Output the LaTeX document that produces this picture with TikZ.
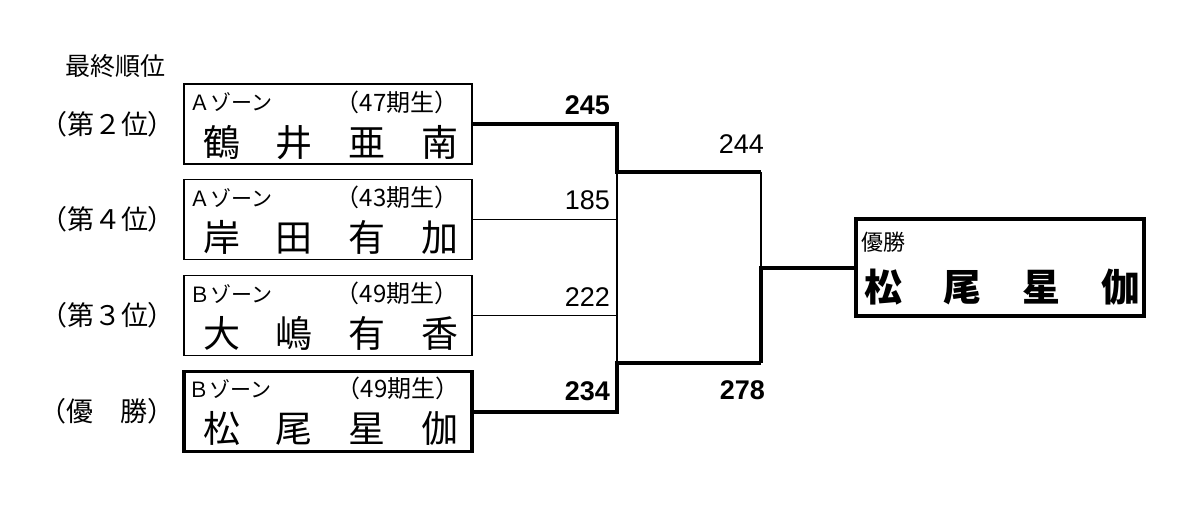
\documentclass[tikz,border=0pt]{standalone}
\usepackage{fontspec}
\setmainfont{Liberation Sans}
\newfontfamily\jp{Noto Sans CJK JP}
\usetikzlibrary{positioning}

% four characters of a name, spread over the box
\newcommand{\spreadname}[5]{\makebox[#1]{#2}\makebox[#1]{#3}\makebox[#1]{#4}\makebox[#1]{#5}}

\begin{document}
\begin{tikzpicture}[x=1pt, y=-1pt,
	entry/.style={draw, line width=1.6pt, minimum width=288, minimum height=80, inner sep=0},
	champentry/.style={entry, line width=3.6pt},
	winbox/.style={draw, line width=4pt, minimum width=288, minimum height=97, inner sep=0},
	zone/.style={font=\jp\fontsize{21}{21}\selectfont, inner sep=0, anchor=west},
	ki/.style={font=\jp\fontsize{24}{24}\selectfont, inner sep=0, anchor=east},
	player/.style={font=\jp\fontsize{37}{37}\selectfont, inner sep=0},
	rank/.style={font=\jp\fontsize{27}{27}\selectfont, inner sep=0},
	score/.style={font=\fontsize{27}{27}\selectfont, inner sep=0},
	bestscore/.style={font=\bfseries\fontsize{27}{27}\selectfont, inner sep=0},
	won/.style={line width=4pt},
	lost/.style={line width=1.3pt}]
	
	\useasboundingbox (0,0) rectangle (1200,532);
	
	\node[rank, font=\jp\fontsize{25}{25}\selectfont] (title) at (115,66) {最終順位};
	
	% entries
	\node[entry] (tsurui) at (328,124) {};
	\node[zone] (tsurui zone) at ([shift={(6,19)}]tsurui.north west) {Ａゾーン};
	\node[ki] (tsurui ki) at ([shift={(-14,19)}]tsurui.north east) {（47期生）};
	\node[player] (tsurui name) at ([shift={(3,59)}]tsurui.north) {\spreadname{73pt}{鶴}{井}{亜}{南}};
	\node[rank, left=8pt of tsurui] (tsurui rank) {（第２位）};
	
	\node[entry] (kishida) at (328,219.5) {};
	\node[zone] (kishida zone) at ([shift={(6,19)}]kishida.north west) {Ａゾーン};
	\node[ki] (kishida ki) at ([shift={(-14,19)}]kishida.north east) {（43期生）};
	\node[player] (kishida name) at ([shift={(3,59)}]kishida.north) {\spreadname{73pt}{岸}{田}{有}{加}};
	\node[rank, left=8pt of kishida] (kishida rank) {（第４位）};
	
	\node[entry] (oshima) at (328,315.5) {};
	\node[zone] (oshima zone) at ([shift={(6,19)}]oshima.north west) {Ｂゾーン};
	\node[ki] (oshima ki) at ([shift={(-14,19)}]oshima.north east) {（49期生）};
	\node[player] (oshima name) at ([shift={(3,59)}]oshima.north) {\spreadname{73pt}{大}{嶋}{有}{香}};
	\node[rank, left=8pt of oshima] (oshima rank) {（第３位）};
	
	\node[champentry] (matsuo) at (328,411.5) {};
	\node[zone] (matsuo zone) at ([shift={(6,19)}]matsuo.north west) {Ｂゾーン};
	\node[ki] (matsuo ki) at ([shift={(-14,19)}]matsuo.north east) {（49期生）};
	\node[player] (matsuo name) at ([shift={(3,59)}]matsuo.north) {\spreadname{73pt}{松}{尾}{星}{伽}};
	\node[rank, left=8pt of matsuo] (matsuo rank) {（優　勝）};
	
	% champion
	\node[winbox] (yusho) at (1000,267.5) {};
	\node[zone, font=\jp\fontsize{22}{22}\selectfont] (yusho title) at ([shift={(7,25)}]yusho.north west) {優勝};
	\node[player, font=\jp\bfseries\fontsize{38}{38}\selectfont] (yusho name) at ([shift={(2,70)}]yusho.north) {\spreadname{79pt}{松}{尾}{星}{伽}};
	
	% bracket
	\coordinate (semi1) at (617,172);
	\coordinate (semi2) at (617,363);
	\coordinate (fin1) at (761,172);
	\coordinate (fin2) at (761,363);
	\coordinate (fin) at (fin1 |- yusho.west);
	
	\draw[lost] (kishida.east) -- (kishida.east -| semi1);
	\draw[lost] (oshima.east) -- (oshima.east -| semi1);
	\draw[lost] (semi1) -- (semi2);
	\draw[lost] (fin1) -- (fin);
	\draw[won] (tsurui.east) -| (semi1) -- (fin1);
	\draw[won] (matsuo.east) -| (semi2) -- (fin2);
	\draw[won] (fin2) -- (fin) -- (yusho.west);
	
	% scores
	\node[bestscore, anchor=south east] (tsurui score) at ([shift={(-7,-9)}]tsurui.east -| semi1) {245};
	\node[score, anchor=south east] (kishida score) at ([shift={(-7,-10)}]kishida.east -| semi1) {185};
	\node[score, anchor=south east] (oshima score) at ([shift={(-7,-9)}]oshima.east -| semi1) {222};
	\node[bestscore, anchor=south east] (matsuo score) at ([shift={(-7,-10)}]matsuo.east -| semi1) {234};
	\node[score, anchor=south east] (fin1 score) at ([shift={(3,-18)}]fin1) {244};
	\node[bestscore, anchor=north east] (fin2 score) at ([shift={(4,17)}]fin2) {278};
	
\end{tikzpicture}
\end{document}
